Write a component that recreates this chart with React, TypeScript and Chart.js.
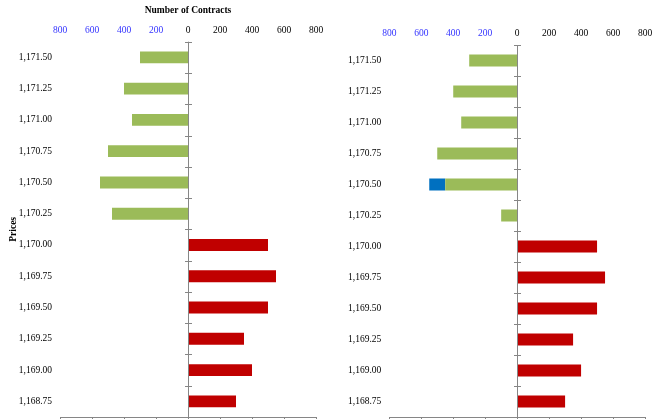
import React, { useEffect, useRef } from "react";
import { Chart, registerables } from "chart.js";

Chart.register(...registerables);

const prices = [
  "1,171.50", "1,171.25", "1,171.00", "1,170.75", "1,170.50", "1,170.25",
  "1,170.00", "1,169.75", "1,169.50", "1,169.25", "1,169.00", "1,168.75",
];

// left panel (before)
const leftAsks = [-300, -400, -350, -500, -550, -475, null, null, null, null, null, null];
const leftBids = [null, null, null, null, null, null, 500, 550, 500, 350, 400, 300];

// right panel (after)
const rightAsks = [-300, -400, -350, -500, -450, -100, null, null, null, null, null, null];
const rightNewAsks = [null, null, null, null, -100, null, null, null, null, null, null, null];
const rightBids = [null, null, null, null, null, null, 500, 550, 500, 350, 400, 300];

const axisMin = -800;
const axisMax = 800;
const axisStep = 200;

const FONT = "'Liberation Serif', 'Times New Roman', serif";
const GREEN = "#9BBB59";
const RED = "#C00000";
const BLUE = "#0070C0";
const AXIS_GRAY = "#868686";
const NEG_LABEL = "#3333FF";

const zeroAxisPlugin = {
  id: "zeroAxis",
  afterDatasetsDraw(chart: any) {
    const { ctx, chartArea, scales } = chart;
    const x = Math.round(scales.x.getPixelForValue(0)) + 0.5;
    const n = prices.length;
    const step = (chartArea.bottom - chartArea.top) / n;
    ctx.save();
    ctx.strokeStyle = AXIS_GRAY;
    ctx.lineWidth = 1;
    ctx.beginPath();
    ctx.moveTo(x, chartArea.top);
    ctx.lineTo(x, chartArea.bottom);
    for (let i = 0; i < n; i++) {
      const y = Math.round(chartArea.top + i * step) + 0.5;
      ctx.moveTo(x - 3.5, y);
      ctx.lineTo(x + 3.5, y);
    }
    ctx.stroke();
    ctx.restore();
  },
};

function zeroPad(s: any) {
  s.paddingLeft = 0;
  s.paddingRight = 0;
  s.paddingTop = 0;
  s.paddingBottom = 0;
}

function makeConfig(
  datasets: any[],
  opts: { yWidth: number; topHeight: number; rightPad: number; showTitle: boolean; showYTitle: boolean }
) {
  return {
    type: "bar" as const,
    data: { labels: prices, datasets },
    options: {
      indexAxis: "y" as const,
      responsive: false,
      animation: false as const,
      devicePixelRatio: 1,
      layout: { padding: { left: 0, top: 0, bottom: 0, right: opts.rightPad } },
      plugins: { legend: { display: false }, tooltip: { enabled: false } },
      datasets: { bar: { barPercentage: 0.38, categoryPercentage: 1 } },
      scales: {
        x: {
          position: "top" as const,
          stacked: true,
          min: axisMin,
          max: axisMax,
          grid: { display: false, drawTicks: false },
          border: { display: false },
          ticks: {
            stepSize: axisStep,
            padding: 6,
            maxRotation: 0,
            font: { family: FONT, size: 9.5 },
            color: (c: any) => (c.tick && c.tick.value < 0 ? NEG_LABEL : "#000"),
            callback: (v: any) => String(Math.abs(Number(v))),
          },
          title: {
            display: opts.showTitle,
            text: "Number of Contracts",
            color: "#000",
            font: { family: FONT, size: 9.5, weight: "bold" as const },
            padding: { top: 5, bottom: 0 },
          },
          afterFit: (s: any) => {
            s.height = opts.topHeight;
            zeroPad(s);
          },
        },
        x2: {
          type: "linear" as const,
          position: "bottom" as const,
          min: axisMin,
          max: axisMax,
          grid: {
            display: true,
            drawOnChartArea: false,
            drawTicks: true,
            tickLength: 4,
            color: AXIS_GRAY,
          },
          border: { display: true, color: AXIS_GRAY },
          ticks: { stepSize: axisStep, display: false },
          afterFit: (s: any) => {
            s.height = 2;
            zeroPad(s);
          },
        },
        y: {
          stacked: true,
          grid: { display: false, drawTicks: false },
          border: { display: false },
          ticks: {
            padding: 8,
            color: "#000",
            font: { family: FONT, size: 9.5 },
            autoSkip: false,
          },
          title: {
            display: opts.showYTitle,
            text: "Prices",
            color: "#000",
            font: { family: FONT, size: 9.5, weight: "bold" as const },
            padding: { top: 8, bottom: 0 },
          },
          afterFit: (s: any) => {
            s.width = opts.yWidth;
            zeroPad(s);
          },
        },
      },
    },
    plugins: [zeroAxisPlugin],
  };
}

function Panel(props: { datasets: any[]; left: number; yWidth: number; topHeight: number; rightPad: number; showTitle: boolean; showYTitle: boolean }) {
  const ref = useRef<HTMLCanvasElement | null>(null);
  useEffect(() => {
    if (!ref.current) return;
    const chart = new Chart(
      ref.current,
      makeConfig(props.datasets, {
        yWidth: props.yWidth,
        topHeight: props.topHeight,
        rightPad: props.rightPad,
        showTitle: props.showTitle,
        showYTitle: props.showYTitle,
      }) as any
    );
    return () => chart.destroy();
  }, []);
  return (
    <canvas
      ref={ref}
      width={326}
      height={419}
      style={{ position: "absolute", left: props.left, top: 0, width: 326, height: 419 }}
    />
  );
}

export default function App() {
  const leftDatasets = [
    { label: "Asks", data: leftAsks, backgroundColor: GREEN, xAxisID: "x" },
    { label: "Bids", data: leftBids, backgroundColor: RED, xAxisID: "x" },
  ];
  const rightDatasets = [
    { label: "Asks", data: rightAsks, backgroundColor: GREEN, xAxisID: "x" },
    { label: "New Asks", data: rightNewAsks, backgroundColor: BLUE, xAxisID: "x" },
    { label: "Bids", data: rightBids, backgroundColor: RED, xAxisID: "x" },
  ];
  return (
    <div
      style={{
        position: "fixed",
        left: 0,
        top: 0,
        width: 652,
        height: 419,
        overflow: "hidden",
        background: "#fff",
      }}
    >
      <Panel datasets={leftDatasets} left={0} yWidth={60} topHeight={41.7} rightPad={10} showTitle={true} showYTitle={true} />
      <Panel datasets={rightDatasets} left={326} yWidth={63.3} topHeight={45} rightPad={7} showTitle={false} showYTitle={false} />
    </div>
  );
}
